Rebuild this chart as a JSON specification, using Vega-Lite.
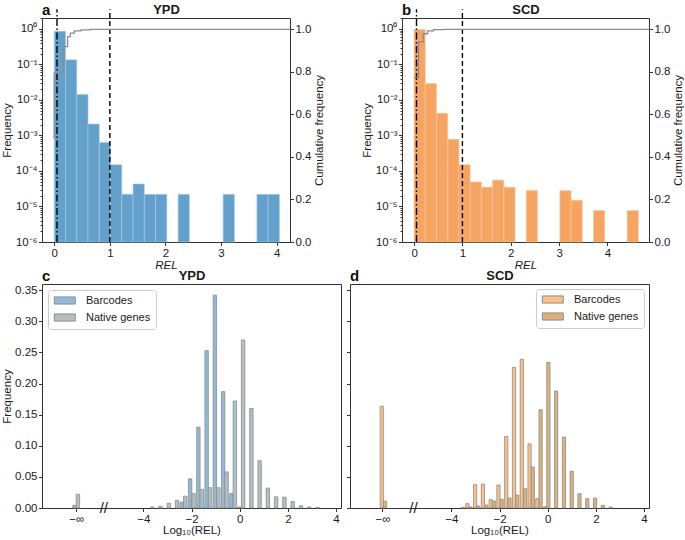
{
  "$schema": "https://vega.github.io/schema/vega-lite/v6.json",
  "background": "white",
  "padding": {"left": 0, "top": 2, "right": 0, "bottom": 0},
  "autosize": {"type": "pad"},
  "spacing": -4,
  "config": {
    "font": "Liberation Sans",
    "view": {"stroke": "#333333", "strokeWidth": 1},
    "axis": {"domain": false, "grid": false, "tickColor": "#333333", "tickSize": 3.5, "tickWidth": 1, "labelFontSize": 11.5, "labelColor": "#1a1a1a", "labelPadding": 1.5, "labelFlush": false, "labelOverlap": false, "titleFontSize": 11.5, "titleFontWeight": "normal", "titleColor": "#1a1a1a", "titlePadding": 3},
    "axisBottom": {"titlePadding": 1},
    "title": {"fontSize": 15, "fontWeight": "bold", "color": "#111111", "anchor": "start", "frame": "group"},
    "legend": {"fillColor": "white", "strokeColor": "#cccccc", "cornerRadius": 3, "padding": 5, "rowPadding": 4, "labelFontSize": 11, "labelColor": "#1a1a1a", "symbolType": "M-1,-0.85H4V0.85H-1Z", "symbolSize": 70, "symbolStrokeColor": "#8c8c8c", "symbolStrokeWidth": 1, "symbolOpacity": 1, "labelOffset": 22}
  },
  "vconcat": [
    {
      "spacing": 34,
      "hconcat": [
        {
          "width": 248, "height": 224,
          "title": {"text": "a", "offset": -14.5},
          "layer": [
            {
              "data": {"values": [
                {"bin_start": 0, "bin_end": 0.2025, "freq": 0.86},
                {"bin_start": 0.2025, "bin_end": 0.405, "freq": 0.135},
                {"bin_start": 0.405, "bin_end": 0.6075, "freq": 0.0142},
                {"bin_start": 0.6075, "bin_end": 0.81, "freq": 0.0021},
                {"bin_start": 0.81, "bin_end": 1.0125, "freq": 0.00064},
                {"bin_start": 1.0125, "bin_end": 1.215, "freq": 0.00015},
                {"bin_start": 1.215, "bin_end": 1.4175, "freq": 0.000022},
                {"bin_start": 1.4175, "bin_end": 1.62, "freq": 0.000043},
                {"bin_start": 1.62, "bin_end": 1.8225, "freq": 0.000022},
                {"bin_start": 1.8225, "bin_end": 2.025, "freq": 0.000022},
                {"bin_start": 2.2275, "bin_end": 2.43, "freq": 0.000022},
                {"bin_start": 3.0375, "bin_end": 3.24, "freq": 0.000022},
                {"bin_start": 3.645, "bin_end": 3.8475, "freq": 0.000022},
                {"bin_start": 3.8475, "bin_end": 4.05, "freq": 0.000022}
              ]},
              "mark": {"type": "bar", "fill": "#63a0cb", "stroke": "#a9cbe4", "strokeWidth": 0.6},
              "encoding": {
                "x": {"field": "bin_start", "type": "quantitative", "scale": {"domain": [-0.22, 4.24], "nice": false, "zero": false}, "axis": {"orient": "bottom", "values": [0, 1, 2, 3, 4], "format": "d", "title": "REL", "titleFontStyle": "italic"}},
                "x2": {"field": "bin_end"},
                "y": {"field": "freq", "type": "quantitative", "scale": {"type": "log", "domain": [1e-6, 2.04], "nice": false}, "axis": {"orient": "left", "title": "Frequency", "titlePadding": 1, "minExtent": 29, "maxExtent": 29, "values": [1e-6, 2e-6, 3e-6, 4e-6, 5e-6, 6e-6, 7e-6, 8e-6, 9e-6, 1e-5, 2e-5, 3e-5, 4e-5, 5e-5, 6e-5, 7e-5, 8e-5, 9e-5, 1e-4, 2e-4, 3e-4, 4e-4, 5e-4, 6e-4, 7e-4, 8e-4, 9e-4, 1e-3, 2e-3, 3e-3, 4e-3, 5e-3, 6e-3, 7e-3, 8e-3, 9e-3, 0.01, 0.02, 0.03, 0.04, 0.05, 0.06, 0.07, 0.08, 0.09, 0.1, 0.2, 0.3, 0.4, 0.5, 0.6, 0.7, 0.8, 0.9, 1, 2], "labelExpr": "abs(log(datum.value)/LN10 - round(log(datum.value)/LN10)) < 0.001 ? '10' + ['⁰','⁻¹','⁻²','⁻³','⁻⁴','⁻⁵','⁻⁶'][-round(log(datum.value)/LN10)] : ''", "tickSize": {"condition": {"test": "abs(log(datum.value)/LN10 - round(log(datum.value)/LN10)) < 0.001", "value": 3.5}, "value": 2}}},
                "y2": {"datum": 1e-6}
              }
            },
            {
              "data": {"values": [{}]},
              "mark": {"type": "rule", "color": "#000000", "strokeWidth": 1.4, "strokeDash": [7, 2.5, 1.5, 2.5]},
              "encoding": {"x": {"datum": 0.05, "scale": {"domain": [-0.22, 4.24], "nice": false, "zero": false}, "axis": null}, "y": {"datum": 1e-6, "scale": {"type": "log", "domain": [1e-6, 2.04], "nice": false}, "axis": null}, "y2": {"datum": 3.6}}
            },
            {
              "data": {"values": [{}]},
              "mark": {"type": "rule", "color": "#000000", "strokeWidth": 1.4, "strokeDash": [5, 3]},
              "encoding": {"x": {"datum": 1, "scale": {"domain": [-0.22, 4.24], "nice": false, "zero": false}, "axis": null}, "y": {"datum": 1e-6, "scale": {"type": "log", "domain": [1e-6, 2.04], "nice": false}, "axis": null}, "y2": {"datum": 3.6}}
            },
            {
              "data": {"values": [
                {"rel": -0.02, "cum": 0.49},
                {"rel": 0, "cum": 0.793},
                {"rel": 0.168, "cum": 0.918},
                {"rel": 0.24, "cum": 0.965},
                {"rel": 0.29, "cum": 0.981},
                {"rel": 0.36, "cum": 0.992},
                {"rel": 0.48, "cum": 0.996},
                {"rel": 0.65, "cum": 0.999},
                {"rel": 4.24, "cum": 1.0}
              ]},
              "mark": {"type": "line", "interpolate": "step-after", "color": "#8c8c8c", "strokeWidth": 1.3},
              "encoding": {
                "x": {"field": "rel", "type": "quantitative", "scale": {"domain": [-0.22, 4.24], "nice": false, "zero": false}, "axis": {"orient": "top", "labels": false, "ticks": false, "domain": false, "title": "YPD", "titleFontWeight": "bold", "titleFontSize": 13, "titlePadding": 2}},
                "y": {"field": "cum", "type": "quantitative", "scale": {"domain": [0, 1.052], "nice": false, "zero": false}, "axis": {"orient": "right", "values": [0, 0.2, 0.4, 0.6, 0.8, 1.0], "format": ".1f", "title": "Cumulative frequency", "titleAngle": 270, "titleBaseline": "top"}}
              }
            }
          ],
          "resolve": {"scale": {"y": "independent"}, "axis": {"x": "independent", "y": "independent"}}
        },
        {
          "width": 247, "height": 224,
          "title": {"text": "b", "offset": -14.5},
          "layer": [
            {
              "data": {"values": [
                {"bin_start": 0, "bin_end": 0.232, "freq": 0.965},
                {"bin_start": 0.232, "bin_end": 0.464, "freq": 0.029},
                {"bin_start": 0.464, "bin_end": 0.696, "freq": 0.0042},
                {"bin_start": 0.696, "bin_end": 0.928, "freq": 0.00078},
                {"bin_start": 0.928, "bin_end": 1.16, "freq": 0.00015},
                {"bin_start": 1.16, "bin_end": 1.392, "freq": 0.000049},
                {"bin_start": 1.392, "bin_end": 1.624, "freq": 0.000035},
                {"bin_start": 1.624, "bin_end": 1.856, "freq": 0.000055},
                {"bin_start": 1.856, "bin_end": 2.088, "freq": 0.000035},
                {"bin_start": 2.32, "bin_end": 2.552, "freq": 0.000028},
                {"bin_start": 3.016, "bin_end": 3.248, "freq": 0.000028},
                {"bin_start": 3.248, "bin_end": 3.48, "freq": 0.000015},
                {"bin_start": 3.712, "bin_end": 3.944, "freq": 0.0000077},
                {"bin_start": 4.408, "bin_end": 4.64, "freq": 0.0000077}
              ]},
              "mark": {"type": "bar", "fill": "#f6a462", "stroke": "#f9c79d", "strokeWidth": 0.6},
              "encoding": {
                "x": {"field": "bin_start", "type": "quantitative", "scale": {"domain": [-0.25, 4.86], "nice": false, "zero": false}, "axis": {"orient": "bottom", "values": [0, 1, 2, 3, 4], "format": "d", "title": "REL", "titleFontStyle": "italic"}},
                "x2": {"field": "bin_end"},
                "y": {"field": "freq", "type": "quantitative", "scale": {"type": "log", "domain": [1e-6, 2.04], "nice": false}, "axis": {"orient": "left", "title": "Frequency", "titlePadding": 1, "minExtent": 29, "maxExtent": 29, "values": [1e-6, 2e-6, 3e-6, 4e-6, 5e-6, 6e-6, 7e-6, 8e-6, 9e-6, 1e-5, 2e-5, 3e-5, 4e-5, 5e-5, 6e-5, 7e-5, 8e-5, 9e-5, 1e-4, 2e-4, 3e-4, 4e-4, 5e-4, 6e-4, 7e-4, 8e-4, 9e-4, 1e-3, 2e-3, 3e-3, 4e-3, 5e-3, 6e-3, 7e-3, 8e-3, 9e-3, 0.01, 0.02, 0.03, 0.04, 0.05, 0.06, 0.07, 0.08, 0.09, 0.1, 0.2, 0.3, 0.4, 0.5, 0.6, 0.7, 0.8, 0.9, 1, 2], "labelExpr": "abs(log(datum.value)/LN10 - round(log(datum.value)/LN10)) < 0.001 ? '10' + ['⁰','⁻¹','⁻²','⁻³','⁻⁴','⁻⁵','⁻⁶'][-round(log(datum.value)/LN10)] : ''", "tickSize": {"condition": {"test": "abs(log(datum.value)/LN10 - round(log(datum.value)/LN10)) < 0.001", "value": 3.5}, "value": 2}}},
                "y2": {"datum": 1e-6}
              }
            },
            {
              "data": {"values": [{}]},
              "mark": {"type": "rule", "color": "#000000", "strokeWidth": 1.4, "strokeDash": [7, 2.5, 1.5, 2.5]},
              "encoding": {"x": {"datum": 0.05, "scale": {"domain": [-0.25, 4.86], "nice": false, "zero": false}, "axis": null}, "y": {"datum": 1e-6, "scale": {"type": "log", "domain": [1e-6, 2.04], "nice": false}, "axis": null}, "y2": {"datum": 3.6}}
            },
            {
              "data": {"values": [{}]},
              "mark": {"type": "rule", "color": "#000000", "strokeWidth": 1.4, "strokeDash": [5, 3]},
              "encoding": {"x": {"datum": 1, "scale": {"domain": [-0.25, 4.86], "nice": false, "zero": false}, "axis": null}, "y": {"datum": 1e-6, "scale": {"type": "log", "domain": [1e-6, 2.04], "nice": false}, "axis": null}, "y2": {"datum": 3.6}}
            },
            {
              "data": {"values": [
                {"rel": 0, "cum": 0.772},
                {"rel": 0.09, "cum": 0.94},
                {"rel": 0.19, "cum": 0.978},
                {"rel": 0.28, "cum": 0.992},
                {"rel": 0.4, "cum": 0.997},
                {"rel": 0.6, "cum": 0.999},
                {"rel": 4.86, "cum": 1.0}
              ]},
              "mark": {"type": "line", "interpolate": "step-after", "color": "#8c8c8c", "strokeWidth": 1.3},
              "encoding": {
                "x": {"field": "rel", "type": "quantitative", "scale": {"domain": [-0.25, 4.86], "nice": false, "zero": false}, "axis": {"orient": "top", "labels": false, "ticks": false, "domain": false, "title": "SCD", "titleFontWeight": "bold", "titleFontSize": 13, "titlePadding": 2}},
                "y": {"field": "cum", "type": "quantitative", "scale": {"domain": [0, 1.052], "nice": false, "zero": false}, "axis": {"orient": "right", "values": [0, 0.2, 0.4, 0.6, 0.8, 1.0], "format": ".1f", "title": "Cumulative frequency", "titleAngle": 270, "titleBaseline": "top"}}
              }
            }
          ],
          "resolve": {"scale": {"y": "independent"}, "axis": {"x": "independent", "y": "independent"}}
        }
      ]
    },
    {
      "spacing": 3,
      "resolve": {"scale": {"color": "independent"}, "legend": {"color": "independent"}},
      "hconcat": [
        {
          "width": 299, "height": 224,
          "title": {"text": "c", "offset": -14.5},
          "data": {"values": [
            {"series": "Barcodes", "log_rel": -6.788, "freq": 0.0043},
            {"series": "Barcodes", "log_rel": -2.329, "freq": 0.0096},
            {"series": "Barcodes", "log_rel": -1.986, "freq": 0.047},
            {"series": "Barcodes", "log_rel": -1.643, "freq": 0.130},
            {"series": "Barcodes", "log_rel": -1.300, "freq": 0.253},
            {"series": "Barcodes", "log_rel": -0.957, "freq": 0.342},
            {"series": "Barcodes", "log_rel": -0.614, "freq": 0.187},
            {"series": "Barcodes", "log_rel": -0.271, "freq": 0.0235},
            {"series": "Barcodes", "log_rel": 0.072, "freq": 0.0016},
            {"series": "Native genes", "log_rel": -6.788, "freq": 0.022},
            {"series": "Native genes", "log_rel": -3.701, "freq": 0.0016},
            {"series": "Native genes", "log_rel": -3.358, "freq": 0.0027},
            {"series": "Native genes", "log_rel": -3.015, "freq": 0.0075},
            {"series": "Native genes", "log_rel": -2.672, "freq": 0.0123},
            {"series": "Native genes", "log_rel": -2.329, "freq": 0.019},
            {"series": "Native genes", "log_rel": -1.986, "freq": 0.023},
            {"series": "Native genes", "log_rel": -1.643, "freq": 0.030},
            {"series": "Native genes", "log_rel": -1.300, "freq": 0.0326},
            {"series": "Native genes", "log_rel": -0.957, "freq": 0.0326},
            {"series": "Native genes", "log_rel": -0.614, "freq": 0.058},
            {"series": "Native genes", "log_rel": -0.271, "freq": 0.172},
            {"series": "Native genes", "log_rel": 0.072, "freq": 0.270},
            {"series": "Native genes", "log_rel": 0.415, "freq": 0.160},
            {"series": "Native genes", "log_rel": 0.758, "freq": 0.076},
            {"series": "Native genes", "log_rel": 1.101, "freq": 0.032},
            {"series": "Native genes", "log_rel": 1.444, "freq": 0.018},
            {"series": "Native genes", "log_rel": 1.787, "freq": 0.0176},
            {"series": "Native genes", "log_rel": 2.130, "freq": 0.0102},
            {"series": "Native genes", "log_rel": 2.473, "freq": 0.0037},
            {"series": "Native genes", "log_rel": 2.816, "freq": 0.0016},
            {"series": "Native genes", "log_rel": 3.159, "freq": 0.0008}
          ]},
          "layer": [
            {
              "transform": [{"filter": "datum.series === 'Barcodes'"}],
              "mark": {"type": "bar", "width": 3.43, "xOffset": -1.72, "stroke": "#8c8c8c", "strokeWidth": 0.8},
              "encoding": {
                "x": {"field": "log_rel", "type": "quantitative", "scale": {"domain": [-8, 4], "nice": false, "zero": false}, "axis": {"orient": "bottom", "values": [-6.79, -4, -2, 0, 2, 4], "format": "d", "labelExpr": "datum.value < -5 ? '−∞' : datum.label", "title": "Log₁₀(REL)", "titlePadding": 0}},
                "y": {"field": "freq", "type": "quantitative", "scale": {"domain": [0, 0.36], "nice": false}, "axis": {"orient": "left", "values": [0, 0.05, 0.1, 0.15, 0.2, 0.25, 0.3, 0.35], "format": ".2f", "title": "Frequency", "titlePadding": 1, "minExtent": 29, "maxExtent": 29}},
                "color": {"field": "series", "type": "nominal", "scale": {"domain": ["Barcodes", "Native genes"], "range": ["#8fbbd9", "#b2c0c5"]}, "legend": {"orient": "top-left", "offset": 6, "title": null}}
              }
            },
            {
              "transform": [{"filter": "datum.series === 'Native genes'"}],
              "mark": {"type": "bar", "width": 3.43, "xOffset": 1.72, "stroke": "#8c8c8c", "strokeWidth": 0.8},
              "encoding": {
                "x": {"field": "log_rel", "type": "quantitative", "scale": {"domain": [-8, 4], "nice": false, "zero": false}, "axis": {"orient": "top", "labels": false, "ticks": false, "domain": false, "title": "YPD", "titleFontWeight": "bold", "titleFontSize": 13, "titlePadding": 2}},
                "y": {"field": "freq", "type": "quantitative", "scale": {"domain": [0, 0.36], "nice": false}, "axis": {"orient": "left", "values": [0, 0.05, 0.1, 0.15, 0.2, 0.25, 0.3, 0.35], "format": ".2f", "title": "Frequency", "titlePadding": 1, "minExtent": 29, "maxExtent": 29}},
                "color": {"field": "series", "type": "nominal", "scale": {"domain": ["Barcodes", "Native genes"], "range": ["#8fbbd9", "#b2c0c5"]}, "legend": {"orient": "top-left", "offset": 6, "title": null}}
              }
            },
            {
              "data": {"values": [{}]},
              "mark": {"type": "text", "text": "//", "fontSize": 15, "baseline": "middle", "align": "center", "color": "#222222"},
              "encoding": {
                "x": {"datum": -5.64, "axis": null},
                "y": {"datum": 0, "scale": {"domain": [0, 0.36], "nice": false}, "axis": {"orient": "left", "values": [0, 0.05, 0.1, 0.15, 0.2, 0.25, 0.3, 0.35], "format": ".2f", "title": "Frequency", "titlePadding": 1, "minExtent": 29, "maxExtent": 29}}
              }
            }
          ],
          "resolve": {"axis": {"x": "independent"}}
        },
        {
          "width": 299, "height": 224,
          "title": {"text": "d", "offset": -14.5},
          "data": {"values": [
            {"series": "Barcodes", "log_rel": -6.821, "freq": 0.1636},
            {"series": "Barcodes", "log_rel": -3.268, "freq": 0.007},
            {"series": "Barcodes", "log_rel": -2.945, "freq": 0.0374},
            {"series": "Barcodes", "log_rel": -2.622, "freq": 0.0385},
            {"series": "Barcodes", "log_rel": -2.299, "freq": 0.0134},
            {"series": "Barcodes", "log_rel": -1.976, "freq": 0.0369},
            {"series": "Barcodes", "log_rel": -1.653, "freq": 0.115},
            {"series": "Barcodes", "log_rel": -1.330, "freq": 0.226},
            {"series": "Barcodes", "log_rel": -1.007, "freq": 0.239},
            {"series": "Barcodes", "log_rel": -0.684, "freq": 0.103},
            {"series": "Barcodes", "log_rel": -0.361, "freq": 0.015},
            {"series": "Barcodes", "log_rel": -0.038, "freq": 0.002},
            {"series": "Native genes", "log_rel": -6.821, "freq": 0.011},
            {"series": "Native genes", "log_rel": -3.591, "freq": 0.001},
            {"series": "Native genes", "log_rel": -3.268, "freq": 0.0016},
            {"series": "Native genes", "log_rel": -2.945, "freq": 0.0032},
            {"series": "Native genes", "log_rel": -2.622, "freq": 0.0048},
            {"series": "Native genes", "log_rel": -2.299, "freq": 0.0112},
            {"series": "Native genes", "log_rel": -1.976, "freq": 0.0139},
            {"series": "Native genes", "log_rel": -1.653, "freq": 0.016},
            {"series": "Native genes", "log_rel": -1.330, "freq": 0.0208},
            {"series": "Native genes", "log_rel": -1.007, "freq": 0.0316},
            {"series": "Native genes", "log_rel": -0.684, "freq": 0.0658},
            {"series": "Native genes", "log_rel": -0.361, "freq": 0.158},
            {"series": "Native genes", "log_rel": -0.038, "freq": 0.234},
            {"series": "Native genes", "log_rel": 0.285, "freq": 0.188},
            {"series": "Native genes", "log_rel": 0.608, "freq": 0.114},
            {"series": "Native genes", "log_rel": 0.931, "freq": 0.0593},
            {"series": "Native genes", "log_rel": 1.254, "freq": 0.023},
            {"series": "Native genes", "log_rel": 1.577, "freq": 0.015},
            {"series": "Native genes", "log_rel": 1.900, "freq": 0.016},
            {"series": "Native genes", "log_rel": 2.223, "freq": 0.0043},
            {"series": "Native genes", "log_rel": 2.546, "freq": 0.0016}
          ]},
          "layer": [
            {
              "transform": [{"filter": "datum.series === 'Barcodes'"}],
              "mark": {"type": "bar", "width": 3.23, "xOffset": -1.62, "stroke": "#8c8c8c", "strokeWidth": 0.8},
              "encoding": {
                "x": {"field": "log_rel", "type": "quantitative", "scale": {"domain": [-8, 4], "nice": false, "zero": false}, "axis": {"orient": "bottom", "values": [-6.86, -4, -2, 0, 2, 4], "format": "d", "labelExpr": "datum.value < -5 ? '−∞' : datum.label", "title": "Log₁₀(REL)", "titlePadding": 0}},
                "y": {"field": "freq", "type": "quantitative", "scale": {"domain": [0, 0.36], "nice": false}, "axis": {"orient": "left", "values": [0, 0.05, 0.1, 0.15, 0.2, 0.25, 0.3, 0.35], "labels": false, "title": null}},
                "color": {"field": "series", "type": "nominal", "scale": {"domain": ["Barcodes", "Native genes"], "range": ["#ffbf86", "#dcb27a"]}, "legend": {"orient": "top-right", "offset": 5, "title": null}}
              }
            },
            {
              "transform": [{"filter": "datum.series === 'Native genes'"}],
              "mark": {"type": "bar", "width": 3.23, "xOffset": 1.62, "stroke": "#8c8c8c", "strokeWidth": 0.8},
              "encoding": {
                "x": {"field": "log_rel", "type": "quantitative", "scale": {"domain": [-8, 4], "nice": false, "zero": false}, "axis": {"orient": "top", "labels": false, "ticks": false, "domain": false, "title": "SCD", "titleFontWeight": "bold", "titleFontSize": 13, "titlePadding": 2}},
                "y": {"field": "freq", "type": "quantitative", "scale": {"domain": [0, 0.36], "nice": false}, "axis": {"orient": "left", "values": [0, 0.05, 0.1, 0.15, 0.2, 0.25, 0.3, 0.35], "labels": false, "title": null}},
                "color": {"field": "series", "type": "nominal", "scale": {"domain": ["Barcodes", "Native genes"], "range": ["#ffbf86", "#dcb27a"]}, "legend": {"orient": "top-right", "offset": 5, "title": null}}
              }
            },
            {
              "data": {"values": [{}]},
              "mark": {"type": "text", "text": "//", "fontSize": 15, "baseline": "middle", "align": "center", "color": "#222222"},
              "encoding": {
                "x": {"datum": -5.57, "axis": null},
                "y": {"datum": 0, "scale": {"domain": [0, 0.36], "nice": false}, "axis": {"orient": "left", "values": [0, 0.05, 0.1, 0.15, 0.2, 0.25, 0.3, 0.35], "labels": false, "title": null}}
              }
            }
          ],
          "resolve": {"axis": {"x": "independent"}}
        }
      ]
    }
  ]
}
